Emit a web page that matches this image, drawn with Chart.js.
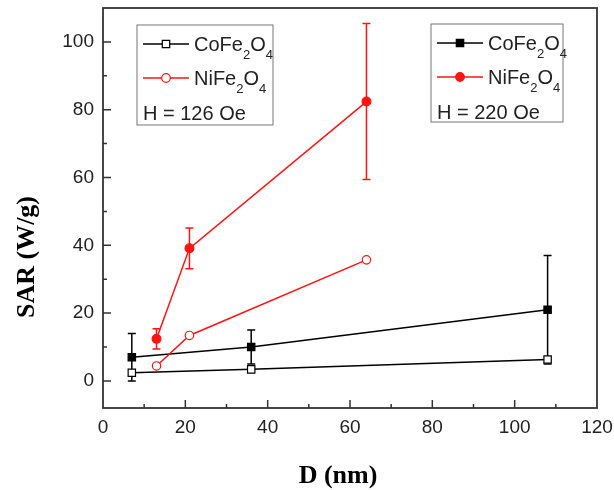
<!DOCTYPE html>
<html>
<head>
<meta charset="utf-8">
<script src="https://cdn.jsdelivr.net/npm/chart.js@4/dist/chart.umd.min.js"></script>
<style>
  body { margin: 0; background: #fff; }
  #wrap { width: 614px; height: 490px; position: relative; }
</style>
</head>
<body>
<div id="wrap"><canvas id="sarChart"></canvas></div>
<script>
// particle size D (nm)
var sizeCo = [7, 36, 108];
var sizeNi = [13, 21, 64];
// SAR (W/g) at H = 126 Oe (open symbols)
var sarCo126 = [2.4, 3.4, 6.3];
var sarNi126 = [4.4, 13.4, 35.7];
// SAR (W/g) at H = 220 Oe (filled symbols) and their error bars
var sarCo220 = [7.0, 10.0, 21.0];
var errCo220 = [7, 5, 16];
var sarNi220 = [12.4, 39.1, 82.4];
var errNi220 = [3, 6, 23];
// axis ticks
var xTicks = [0, 20, 40, 60, 80, 100, 120];
var yTicks = [0, 20, 40, 60, 80, 100];

var RED = 'rgb(255,20,20)';
var SANS = '"Liberation Sans", Arial, sans-serif';
var SERIF = '"Liberation Serif", "Times New Roman", serif';

function pts(xs, ys) {
    var out = [];
    for (var i = 0; i < xs.length; i++) out.push({ x: xs[i], y: ys[i] });
    return out;
}

// error bars, frame, inward ticks, axis titles, two legend boxes
var decor = {
    id: 'decor',
    beforeDatasetsDraw: function (chart) {
        var ctx = chart.ctx;
        var xs = chart.scales.x, ys = chart.scales.y;
        chart.data.datasets.forEach(function (ds) {
            if (!ds.errors) return;
            ctx.save();
            ctx.strokeStyle = ds.borderColor;
            ctx.lineWidth = 1.5;
            ds.data.forEach(function (p, i) {
                var e = ds.errors[i];
                var px = xs.getPixelForValue(p.x);
                var top = ys.getPixelForValue(p.y + e);
                var bot = ys.getPixelForValue(p.y - e);
                ctx.beginPath();
                ctx.moveTo(px, top); ctx.lineTo(px, bot);
                ctx.moveTo(px - 4, top); ctx.lineTo(px + 4, top);
                ctx.moveTo(px - 4, bot); ctx.lineTo(px + 4, bot);
                ctx.stroke();
            });
            ctx.restore();
        });
    },
    afterDraw: function (chart) {
        var ctx = chart.ctx;
        var xs = chart.scales.x, ys = chart.scales.y;
        var L = xs.getPixelForValue(xs.min), R = xs.getPixelForValue(xs.max);
        var T = ys.getPixelForValue(ys.max), B = ys.getPixelForValue(ys.min);
        ctx.save();
        ctx.strokeStyle = '#333';
        ctx.lineWidth = 1.8;
        ctx.strokeRect(L, T, R - L, B - T);
        ctx.lineWidth = 1.5;
        ctx.beginPath();
        for (var v = 10; v < 120; v += 10) {
            var px = xs.getPixelForValue(v);
            var len = v % 20 === 0 ? 8 : 4;
            ctx.moveTo(px, B); ctx.lineTo(px, B - len);
        }
        for (var w = 0; w <= 100; w += 10) {
            var py = ys.getPixelForValue(w);
            var l2 = w % 20 === 0 ? 8 : 4;
            ctx.moveTo(L, py); ctx.lineTo(L + l2, py);
        }
        ctx.stroke();

        // axis titles
        ctx.fillStyle = '#000';
        ctx.font = 'bold 26px ' + SERIF;
        ctx.textAlign = 'center';
        ctx.textBaseline = 'middle';
        ctx.fillText('D (nm)', 338, 476);
        ctx.save();
        ctx.translate(27, 257);
        ctx.rotate(-Math.PI / 2);
        ctx.fillText('SAR (W/g)', 0, 0);
        ctx.restore();
        ctx.textAlign = 'left';

        drawBox(ctx, 137, 25, 136, 100, [chart.data.datasets[0], chart.data.datasets[1]], 'H = 126 Oe');
        drawBox(ctx, 431, 24, 132, 98, [chart.data.datasets[2], chart.data.datasets[3]], 'H = 220 Oe');
        ctx.restore();
    }
};

function drawFormula(ctx, parts, x, base) {
    // parts: [text, isSub]
    parts.forEach(function (p) {
        if (p[1]) {
            ctx.font = '13px ' + SANS;
            ctx.fillText(p[0], x, base + 8);
        } else {
            ctx.font = '20px ' + SANS;
            ctx.fillText(p[0], x, base);
        }
        x += ctx.measureText(p[0]).width;
    });
}

function drawBox(ctx, x, y, w, h, sets, note) {
    ctx.strokeStyle = '#777';
    ctx.lineWidth = 1;
    ctx.strokeRect(x, y, w, h);
    ctx.textBaseline = 'alphabetic';
    sets.forEach(function (ds, i) {
        var cy = y + 19 + i * 34;
        ctx.strokeStyle = ds.borderColor;
        ctx.lineWidth = 1.5;
        ctx.beginPath();
        ctx.moveTo(x + 6, cy); ctx.lineTo(x + 52, cy);
        ctx.stroke();
        var mx = x + 29;
        ctx.fillStyle = ds.pointBackgroundColor;
        ctx.lineWidth = 1.2;
        ctx.beginPath();
        if (ds.pointStyle === 'rect') {
            ctx.rect(mx - 3.7, cy - 3.7, 7.4, 7.4);
        } else {
            ctx.arc(mx, cy, 4.3, 0, Math.PI * 2);
        }
        ctx.fill();
        ctx.stroke();
        ctx.fillStyle = '#222';
        drawFormula(ctx, ds.formula, x + 57, cy + 7);
    });
    ctx.fillStyle = '#222';
    ctx.font = '20px ' + SANS;
    ctx.fillText(note, x + 6, y + 95);
}

var ctx1 = document.getElementById('sarChart');
var sarChart = new Chart(ctx1, {
    type: 'line',
    data: {
        datasets: [
            {
                label: 'CoFe2O4 126 Oe',
                formula: [['CoFe', 0], ['2', 1], ['O', 0], ['4', 1]],
                data: pts(sizeCo, sarCo126),
                borderColor: '#000', pointBackgroundColor: '#fff',
                pointStyle: 'rect', pointRadius: 5.2
            },
            {
                label: 'NiFe2O4 126 Oe',
                formula: [['NiFe', 0], ['2', 1], ['O', 0], ['4', 1]],
                data: pts(sizeNi, sarNi126),
                borderColor: RED, pointBackgroundColor: '#fff',
                pointStyle: 'circle', pointRadius: 4.2
            },
            {
                label: 'CoFe2O4 220 Oe',
                formula: [['CoFe', 0], ['2', 1], ['O', 0], ['4', 1]],
                data: pts(sizeCo, sarCo220),
                errors: errCo220,
                borderColor: '#000', pointBackgroundColor: '#000',
                pointStyle: 'rect', pointRadius: 5.2
            },
            {
                label: 'NiFe2O4 220 Oe',
                formula: [['NiFe', 0], ['2', 1], ['O', 0], ['4', 1]],
                data: pts(sizeNi, sarNi220),
                errors: errNi220,
                borderColor: RED, pointBackgroundColor: RED,
                pointStyle: 'circle', pointRadius: 4.4
            }
        ]
    },
    options: {
        responsive: true,
        maintainAspectRatio: false,
        animation: false,
        layout: { padding: { top: 8, right: 0, left: 0, bottom: 0 } },
        elements: {
            line: { borderWidth: 1.5, tension: 0 },
            point: { borderWidth: 1.2, hoverRadius: 5 }
        },
        plugins: {
            legend: { display: false },
            tooltip: { enabled: false }
        },
        scales: {
            x: {
                type: 'linear',
                min: 0, max: 120,
                grid: { display: false, drawTicks: false },
                border: { display: false },
                afterBuildTicks: function (s) {
                    s.ticks = xTicks.map(function (v) { return { value: v }; });
                },
                afterFit: function (s) {
                    s.height = 82;
                    s.paddingLeft = 0;
                    s.paddingRight = 17;
                },
                ticks: {
                    padding: 8,
                    color: '#222',
                    maxRotation: 0,
                    font: { family: SANS, size: 19 }
                }
            },
            y: {
                type: 'linear',
                min: -8, max: 110,
                grid: { display: false, drawTicks: false },
                border: { display: false },
                afterBuildTicks: function (s) {
                    s.ticks = yTicks.map(function (v) { return { value: v }; });
                },
                afterFit: function (s) {
                    s.width = 103;
                    s.paddingTop = 0;
                    s.paddingBottom = 0;
                },
                ticks: {
                    padding: 9,
                    color: '#222',
                    font: { family: SANS, size: 19 }
                }
            }
        }
    },
    plugins: [decor]
});
</script>
</body>
</html>
